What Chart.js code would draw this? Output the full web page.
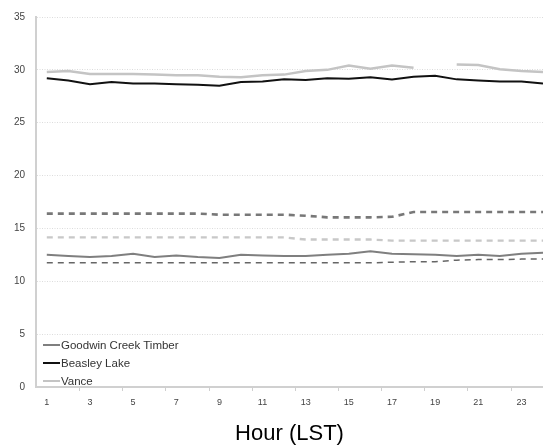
<!DOCTYPE html>
<html>
<head>
<meta charset="utf-8">
<script src="https://cdn.jsdelivr.net/npm/chart.js@4/dist/chart.umd.min.js"></script>
<style>
  html, body { margin: 0; padding: 0; background: #fff; overflow: hidden; }
  #wrap { position: relative; width: 543px; height: 447px; }
  #legend { position: absolute; left: 43px; top: 336px; font-family: "Liberation Sans", Arial, sans-serif; font-size: 11.5px; color: #333; }
  .item { display: flex; align-items: center; height: 18px; }
  .swatch { width: 17px; margin-right: 1px; }
</style>
</head>
<body>
<div id="wrap">
  <canvas id="c" width="543" height="447"></canvas>
  <div id="legend"></div>
</div>
<script>
const hours = [1,2,3,4,5,6,7,8,9,10,11,12,13,14,15,16,17,18,19,20,21,22,23,24];
const seriesNames = ['Goodwin Creek Timber', 'Beasley Lake', 'Vance'];
const goodwin = [12.5,12.4,12.3,12.4,12.6,12.3,12.45,12.3,12.2,12.5,12.45,12.4,12.4,12.5,12.6,12.85,12.6,12.55,12.5,12.4,12.5,12.4,12.6,12.7];
const beasley = [29.2,29.0,28.65,28.85,28.7,28.7,28.65,28.6,28.5,28.85,28.9,29.1,29.05,29.2,29.15,29.3,29.1,29.35,29.45,29.1,29.0,28.9,28.9,28.7];
const vance = [29.8,29.9,29.6,29.6,29.6,29.55,29.5,29.5,29.35,29.3,29.5,29.55,29.9,30.0,30.4,30.1,30.4,30.2,null,30.5,30.45,30.05,29.9,29.8];
const dashUpper = [16.4,16.4,16.4,16.4,16.4,16.4,16.4,16.4,16.3,16.3,16.3,16.3,16.2,16.05,16.05,16.05,16.1,16.55,16.55,16.55,16.55,16.55,16.55,16.55];
const dashMiddle = [14.15,14.15,14.15,14.15,14.15,14.15,14.15,14.15,14.15,14.15,14.15,14.15,13.95,13.95,13.95,13.95,13.85,13.85,13.85,13.85,13.85,13.85,13.85,13.85];
const dashLower = [11.75,11.75,11.75,11.75,11.75,11.75,11.75,11.75,11.75,11.75,11.75,11.75,11.75,11.75,11.75,11.75,11.8,11.85,11.85,12.0,12.05,12.05,12.1,12.1];
const xTickLabels = [1,3,5,7,9,11,13,15,17,19,21,23];
const xMinorMarks = [2.5,4.5,6.5,8.5,10.5,12.5,14.5,16.5,18.5,20.5,22.5];
const yTickValues = [0,5,10,15,20,25,30,35];

const pts = arr => hours.map((h, i) => ({x: h, y: arr[i]}));

const solidColors = ['#7f7f7f', '#111111', '#c4c4c4'];
const solidWidths = [2, 2, 2.5];

const datasets = [
  {label: 'dashUpper', data: pts(dashUpper), borderColor: '#787878', borderWidth: 2.6, borderDash: [6,5]},
  {label: 'dashMiddle', data: pts(dashMiddle), borderColor: '#c8c8c8', borderWidth: 2.4, borderDash: [6,5]},
  {label: 'dashLower', data: pts(dashLower), borderColor: '#666666', borderWidth: 1.5, borderDash: [6,5]},
  {label: seriesNames[0], data: pts(goodwin), borderColor: solidColors[0], borderWidth: solidWidths[0]},
  {label: seriesNames[1], data: pts(beasley), borderColor: solidColors[1], borderWidth: solidWidths[1]},
  {label: seriesNames[2], data: pts(vance), borderColor: solidColors[2], borderWidth: solidWidths[2]}
].map(d => Object.assign({pointRadius: 0, tension: 0, fill: false, spanGaps: false}, d));

const minorTicks = {
  id: 'minorTicks',
  afterDraw(chart) {
    const xs = chart.scales.x, ctx = chart.ctx, y0 = chart.chartArea.bottom;
    ctx.save();
    ctx.strokeStyle = '#cfcfcf';
    ctx.lineWidth = 1;
    xMinorMarks.forEach(v => {
      const px = Math.round(xs.getPixelForValue(v)) + 0.5;
      ctx.beginPath(); ctx.moveTo(px, y0); ctx.lineTo(px, y0 + 4); ctx.stroke();
    });
    ctx.restore();
  }
};

new Chart(document.getElementById('c'), {
  type: 'line',
  data: {datasets},
  options: {
    responsive: false,
    animation: false,
    layout: {padding: {top: 17, left: 0, right: 0, bottom: 0}},
    plugins: {legend: {display: false}, tooltip: {enabled: false}},
    scales: {
      x: {
        type: 'linear', min: 0.5, max: 24.0,
        afterBuildTicks: s => { s.ticks = xTickLabels.map(v => ({value: v})); },
        afterFit: s => { s.height = 60; },
        grid: {display: false, drawTicks: false},
        border: {display: true, color: '#d0d0d0', width: 2},
        ticks: {color: '#444', font: {family: 'Liberation Sans', size: 9}, padding: 10, maxRotation: 0, autoSkip: false, callback: v => String(v)},
        title: {display: true, text: 'Hour (LST)', color: '#000', font: {family: 'Liberation Sans', size: 22}, padding: {top: 10, bottom: 0}}
      },
      y: {
        min: 0, max: 35,
        afterBuildTicks: s => { s.ticks = yTickValues.map(v => ({value: v})); },
        afterFit: s => { s.width = 36; },
        grid: {color: '#dcdcdc', lineWidth: 1, drawTicks: false},
        border: {display: true, color: '#d0d0d0', width: 2, dash: [1,1.5]},
        ticks: {color: '#444', font: {family: 'Liberation Sans', size: 10}, padding: 11}
      }
    }
  },
  plugins: [minorTicks]
});

// HTML legend built from series names/colours
const leg = document.getElementById('legend');
seriesNames.forEach((name, i) => {
  const row = document.createElement('div'); row.className = 'item';
  const sw = document.createElement('div'); sw.className = 'swatch';
  sw.style.borderTop = solidWidths[i] + 'px solid ' + solidColors[i];
  const t = document.createElement('span'); t.textContent = name;
  row.appendChild(sw); row.appendChild(t); leg.appendChild(row);
});
</script>
</body>
</html>
